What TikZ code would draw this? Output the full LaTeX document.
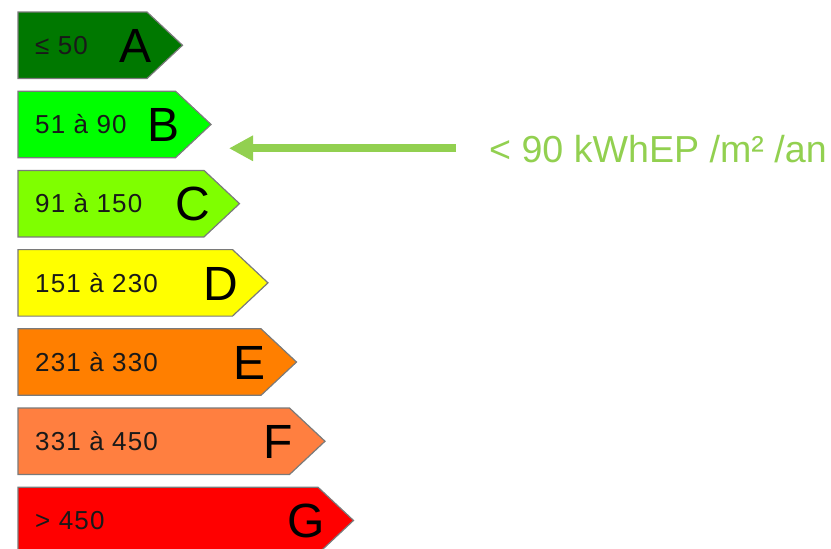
\documentclass[tikz,border=0pt]{standalone}
\usepackage{fontspec}
\setmainfont{Liberation Sans}
\newfontfamily\lblfont[LetterSpace=4.5]{Liberation Sans}
\usetikzlibrary{arrows.meta}
\definecolor{clsA}{HTML}{007800}
\definecolor{clsB}{HTML}{00FF00}
\definecolor{clsC}{HTML}{7FFF00}
\definecolor{clsD}{HTML}{FFFF00}
\definecolor{clsE}{HTML}{FF7F00}
\definecolor{clsF}{HTML}{FF7F40}
\definecolor{clsG}{HTML}{FF0000}
\definecolor{note}{HTML}{92D050}
\definecolor{edge}{HTML}{7A7A7A}
\tikzset{
  bar/.style={draw=edge, line width=1.2pt, line join=miter},
  lbl/.style={anchor=base west, inner sep=0pt, text=black!90, font=\lblfont\fontsize{26}{26}\selectfont},
  big/.style={anchor=base, inner sep=0pt, font=\fontsize{48}{48}\selectfont},
  notetext/.style={anchor=base west, inner sep=0pt, text=note, font=\fontsize{37.6}{37.6}\selectfont},
  pointer/.style={draw=note, line width=8pt, -{Triangle[length=24pt,width=24pt]}}
}
\begin{document}
\begin{tikzpicture}[x=1pt,y=-1pt]
\useasboundingbox (0,0) rectangle (831,549);
\foreach \i/\col/\lab/\ltr in {0/clsA/≤ 50/A, 1/clsB/51 à 90/B, 2/clsC/91 à 150/C, 3/clsD/151 à 230/D, 4/clsE/231 à 330/E, 5/clsF/331 à 450/F, 6/clsG/> 450/G} {
  \pgfmathsetmacro\t{12+79.2*\i}
  \pgfmathsetmacro\b{\t+66.5}
  \pgfmathsetmacro\m{\t+33.25}
  \pgfmathsetmacro\r{147+28.5*\i}
  \pgfmathsetmacro\p{\r+35.5}
  \draw[bar, fill=\col] (18,\t) -- (\r,\t) -- (\p,\m) -- (\r,\b) -- (18,\b) -- cycle;
  \node[lbl] (lbl\ltr) at (35,\m+9.3) {\lab};
  \node[big] (let\ltr) at (\r-11.5,\m+17.2) {\ltr};
}
\node[notetext] (note) at (489,162.7) {< 90 kWhEP /m² /an};
\coordinate (arrS) at (456,148.3);
\coordinate (arrE) at (229,148.3);
\draw[pointer] (arrS) -- (arrE);
\end{tikzpicture}
\end{document}
